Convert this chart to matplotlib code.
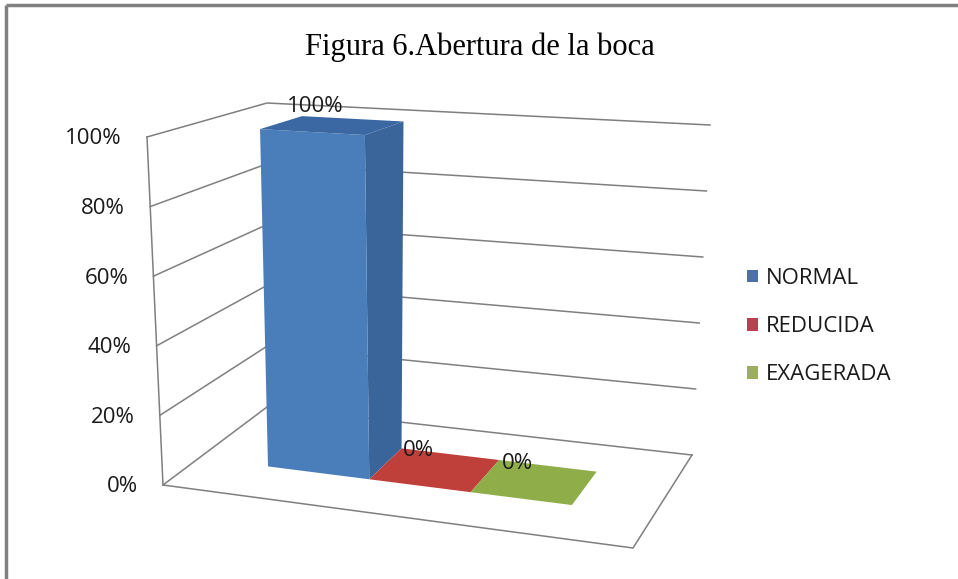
import numpy as np
import matplotlib
matplotlib.use("Agg")
import matplotlib.pyplot as plt
from matplotlib.patches import Polygon, Patch

# data
series = ['NORMAL', 'REDUCIDA', 'EXAGERADA']
values = [100, 0, 0]
labels = ['100%', '0%', '0%']
yticks = [0, 20, 40, 60, 80, 100]
ytick_labels = ['0%', '20%', '40%', '60%', '80%', '100%']
title = 'Figura 6.Abertura de la boca'

front_cols = ['#4a7ebb', '#c0413d', '#93b04f']
side_cols = ['#3a659b', '#9c3431', '#7a923f']
top_cols = ['#3b67a3', '#bf3f3b', '#8fae4a']
legend_cols = ['#4f6fa8', '#b8414f', '#9aae5e']

# box corners in pixels (front/back, left/right, bottom/top)
C = {
    'FLB': (163, 485), 'FRB': (633, 548), 'BLB': (267, 407), 'BRB': (692, 455),
    'FLT': (147, 137), 'FRT': (632, 166), 'BLT': (267, 103), 'BRT': (710, 125),
}


def project(u, w, v):
    """u: along series axis 0..1, w: depth 0 front..1 back, v: value 0..1."""
    def plane(s):
        fl, fr = np.array(C['FL' + s]), np.array(C['FR' + s])
        bl, br = np.array(C['BL' + s]), np.array(C['BR' + s])
        return ((1 - u) * (1 - w) * fl + u * (1 - w) * fr
                + (1 - u) * w * bl + u * w * br)
    return (1 - v) * plane('B') + v * plane('T')


fig = plt.figure(figsize=(9.58, 5.79), dpi=100)
ax = fig.add_axes([0, 0, 1, 1])
ax.set_xlim(0, 958)
ax.set_ylim(579, 0)
ax.axis('off')

font = 'Open Sans'
fs = 16
grid_col = '#7f7f7f'
txt_col = '#1a1a1a'

# outer frame
ax.plot([6, 958], [5, 5], color='#808080', lw=2.5, solid_capstyle='butt')
ax.plot([6, 6], [5, 579], color='#808080', lw=2.5, solid_capstyle='butt')

# walls / gridlines
for t, lab in zip(yticks, ytick_labels):
    v = t / 100
    pts = np.array([project(0, 0, v), project(0, 1, v), project(1, 1, v)])
    ax.plot(pts[:, 0], pts[:, 1], color=grid_col, lw=1.1, zorder=1)
    x0, y0 = project(0, 0, v)
    ax.text(x0 - 25, y0 + 2, lab, ha='right', va='center', fontsize=fs,
            family=font, color=txt_col)

edge = np.array([project(0, 0, 0), project(0, 0, 1)])
ax.plot(edge[:, 0], edge[:, 1], color=grid_col, lw=1.1, zorder=1)
floor = np.array([project(0, 0, 0), project(1, 0, 0), project(1, 1, 0)])
ax.plot(floor[:, 0], floor[:, 1], color=grid_col, lw=1.1, zorder=1)

# bars
bw = 0.223
u_start = 0.151
w0, w1 = 0.35, 0.72
for i, val in enumerate(values):
    u0 = u_start + i * bw
    u1 = u0 + bw
    v = val / 100
    if v > 0:
        front = [project(u0, w0, 0), project(u1, w0, 0), project(u1, w0, v), project(u0, w0, v)]
        side = [project(u1, w0, 0), project(u1, w1, 0), project(u1, w1, v), project(u1, w0, v)]
        ax.add_patch(Polygon(side, closed=True, fc=side_cols[i], ec='none', zorder=3))
        ax.add_patch(Polygon(front, closed=True, fc=front_cols[i], ec='none', zorder=3))
    top = [project(u0, w0, v), project(u1, w0, v), project(u1, w1, v), project(u0, w1, v)]
    ax.add_patch(Polygon(top, closed=True, fc=top_cols[i], ec='none', zorder=3))
    cx, cy = project((u0 + u1) / 2, (w0 + w1) / 2, v)
    ax.text(cx - 17, cy - 19, labels[i], ha='center', va='center', fontsize=fs,
            family=font, color=txt_col, zorder=5)

# title
ax.text(480, 47, title, ha='center', va='center', fontsize=22,
        family='Liberation Serif', color='#000000')

# legend
handles = [Patch(fc=c, ec='none', label=s) for c, s in zip(legend_cols, series)]
ax.legend(handles=handles, loc='upper left', bbox_to_anchor=(727, 248),
          bbox_transform=ax.transData, frameon=False, handlelength=0.5,
          handleheight=0.5, handletextpad=0.35, labelspacing=1.22,
          prop={'family': font, 'size': fs}, labelcolor=txt_col)

fig.savefig('out.png', dpi=100)
